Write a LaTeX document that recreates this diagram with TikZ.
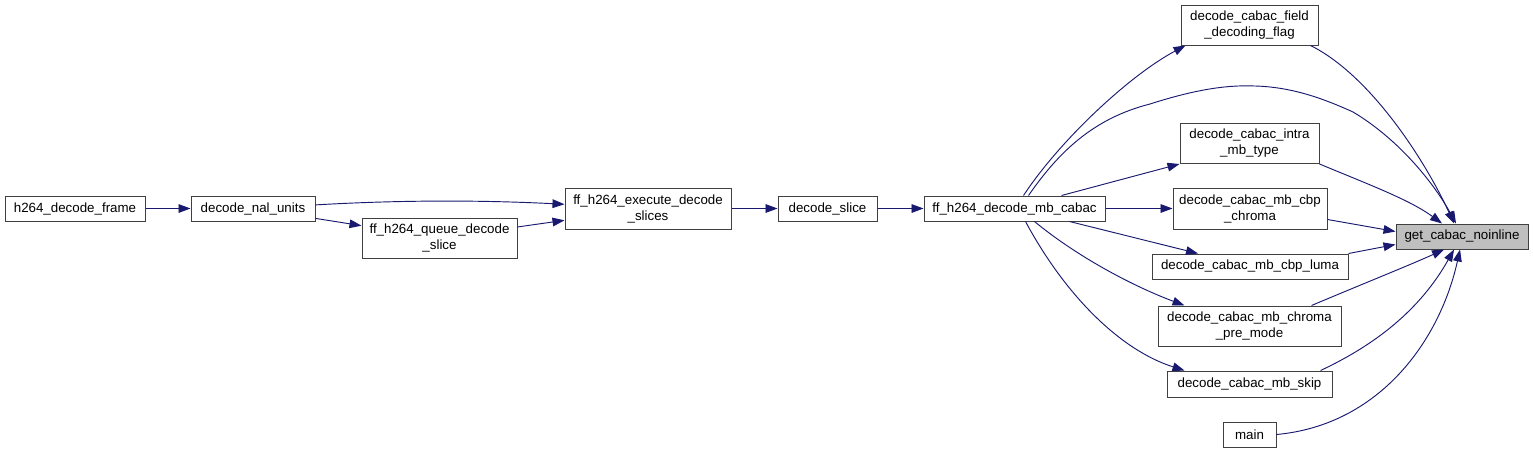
\documentclass[tikz,border=0pt]{standalone}
\usepackage{fontspec}
\setmainfont{Liberation Sans}
\usetikzlibrary{arrows.meta,calc}
\definecolor{edgeblue}{HTML}{191970}
\definecolor{boxline}{HTML}{404040}
\definecolor{hl}{HTML}{BFBFBF}
\begin{document}
\begin{tikzpicture}[x=0.75pt,y=-0.75pt,
  box/.style={draw=boxline,line width=0.75pt,fill=white,inner sep=0pt,align=center,
    font=\fontsize{10}{12}\selectfont},
  bw/.style={minimum width=#1*0.75pt},
  bh/.style={minimum height=#1*0.75pt},
  edge/.style={draw=edgeblue,line width=0.7pt,-{Triangle[length=9pt,width=6.5pt]}}]
\useasboundingbox[fill=white] (0,0) rectangle (1533,454);
% nodes
\node[box,bw=140,bh=25] (frame) at (75,208.5) {h264\_decode\_frame};
\node[box,bw=124,bh=25] (nal) at (253,208.5) {decode\_nal\_units};
\node[box,bw=155,bh=40] (queue) at (439.5,238) {ff\_h264\_queue\_decode\\\_slice};
\node[box,bw=166,bh=41] (exec) at (648,208.5) {ff\_h264\_execute\_decode\\\_slices};
\node[box,bw=99,bh=25] (slice) at (827.5,208.5) {decode\_slice};
\node[box,bw=181,bh=25] (mb) at (1014.5,208.5) {ff\_h264\_decode\_mb\_cabac};
\node[box,bw=137,bh=40] (flag) at (1249.5,25) {decode\_cabac\_field\\\_decoding\_flag};
\node[box,bw=139,bh=40] (intra) at (1249.5,143.5) {decode\_cabac\_intra\\\_mb\_type};
\node[box,bw=154,bh=41] (chroma) at (1250,208.5) {decode\_cabac\_mb\_cbp\\\_chroma};
\node[box,bw=196,bh=25] (luma) at (1250,266.5) {decode\_cabac\_mb\_cbp\_luma};
\node[box,bw=183,bh=40] (premode) at (1249.5,326) {decode\_cabac\_mb\_chroma\\\_pre\_mode};
\node[box,bw=165,bh=26] (skip) at (1249.5,384) {decode\_cabac\_mb\_skip};
\node[box,bw=53,bh=25] (main) at (1249.5,434.5) {main};
\node[box,bw=132,bh=25,fill=hl] (get) at (1462,236.5) {get\_cabac\_noinline};
% left chain
\draw[edge] (frame) -- (nal);
\draw[edge] (nal) .. controls (400,200) and (480,200) .. (exec);
\draw[edge] (nal) -- (queue);
\draw[edge] (queue) -- (exec);
\draw[edge] (exec) -- (slice);
\draw[edge] (slice) -- (mb);
% from mb
\draw[edge] ($(mb.north)+(9,0)$) .. controls (1060,140) and (1130,75) .. ($(flag.south west)+(5,0)$);
\draw[edge] ($(mb.north)+(14,0)$) .. controls (1060,150) and (1095,118) .. (1150,104)
  .. controls (1200,88) and (1230,85) .. (1255,86)
  .. controls (1290,87) and (1320,97) .. (1353,112)
  .. controls (1400,140) and (1435,185) .. ($(get.north)+(-6,0)$);
\draw[edge] ($(mb.north)+(47,0)$) -- (intra.south west);
\draw[edge] (mb) -- (chroma);
\draw[edge] ($(mb.south)+(55,0)$) -- ($(luma.north)+(-52,0)$);
\draw[edge] ($(mb.south)+(20,0)$) .. controls (1075,255) and (1130,285) .. ($(premode.north west)+(27,0)$);
\draw[edge] ($(mb.south)+(11,0)$) .. controls (1065,295) and (1120,350) .. ($(skip.north west)+(18,0)$);
% into get
\draw[edge] ($(flag.south east)+(-8,0)$) .. controls (1370,75) and (1425,160) .. ($(get.north)+(-8,0)$);
\draw[edge] (intra.south east) .. controls (1370,185) and (1410,200) .. ($(get.north)+(-20,0)$);
\draw[edge] ($(chroma.east)+(0,11)$) -- ($(get.west)+(0,-5)$);
\draw[edge] (luma.north east) -- ($(get.west)+(0,8)$);
\draw[edge] ($(premode.north east)+(-30,0)$) .. controls (1360,285) and (1410,265) .. ($(get.south)+(-18,0)$);
\draw[edge] ($(skip.north east)+(-12,0)$) .. controls (1375,345) and (1420,310) .. ($(get.south)+(-8,0)$);
\draw[edge] (main.east) .. controls (1380,425) and (1440,340) .. ($(get.south)+(-2,0)$);
\end{tikzpicture}
\end{document}
